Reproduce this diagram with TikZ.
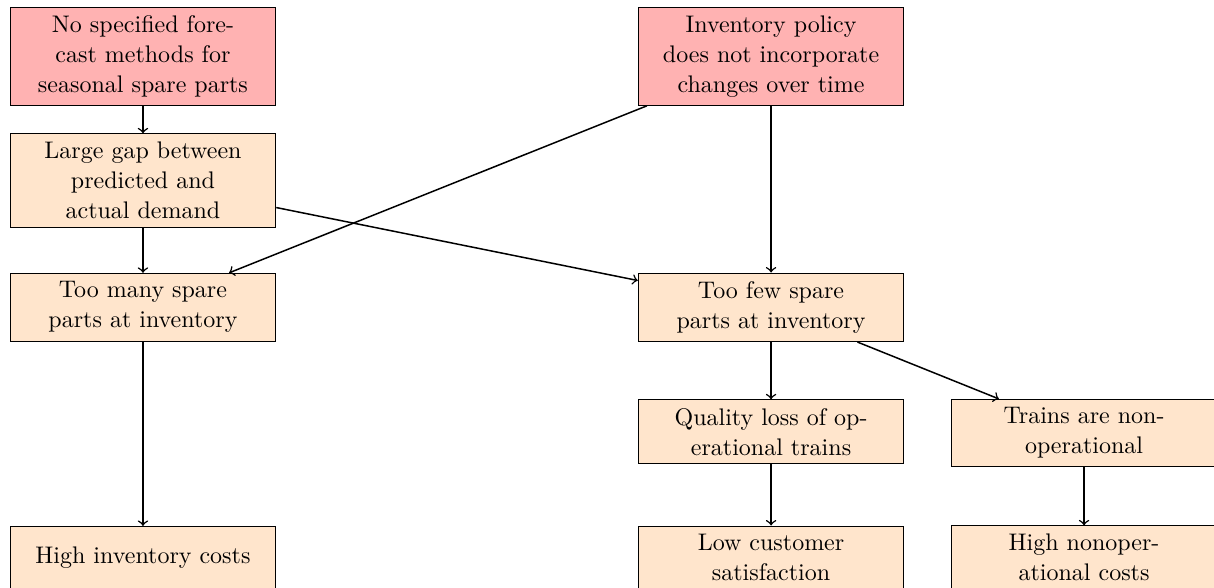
\documentclass[tikz,border=0pt]{standalone}
\usepackage{amsmath}
\usepackage{amssymb}
\usepackage{xcolor}
\usepackage{tikz}

\begin{document}
\begin{tikzpicture}
\tikzstyle{cause} = [draw,fill=red!30,font=\fontsize{9.6}{12}\selectfont,text width=3.5cm,align=center,minimum height=2.5em];
\tikzstyle{effect} = [draw,fill=orange!20,font=\fontsize{9.6}{12}\selectfont,text width=3.5cm,align=center,minimum height=2.5em];
\tikzstyle{arr} = [semithick,->];
\useasboundingbox (0,0) rectangle (17.067,-8.266);
\node [cause] (v1) at (2.01,-0.79) {No specified forecast methods for seasonal spare parts};
\node [cause] (v2) at (10.84,-0.79) {Inventory policy does not incorporate changes over time};
\node [effect] (v3) at (2.01,-2.54) {Large gap between predicted and actual demand};
\node [effect] (v4) at (2.01,-4.32) {Too many spare parts at inventory};
\node [effect] (v5) at (10.84,-4.32) {Too few spare parts at inventory};
\node [effect] (v6) at (10.84,-6.07) {Quality loss of operational trains};
\node [effect] (v7) at (15.24,-6.09) {Trains are nonoperational};
\node [effect] (v8) at (2.01,-7.84) {High inventory costs};
\node [effect] (v9) at (10.84,-7.84) {Low customer satisfaction};
\node [effect] (v10) at (15.24,-7.84) {High nonoperational costs};
\draw [arr] (v1) edge (v3);
\draw [arr] (v3) edge (v4);
\draw [arr] (v3) edge (v5);
\draw [arr] (v2) edge (v4);
\draw [arr] (v2) edge (v5);
\draw [arr] (v4) edge (v8);
\draw [arr] (v5) edge (v6);
\draw [arr] (v5) edge (v7);
\draw [arr] (v6) edge (v9);
\draw [arr] (v7) edge (v10);
\end{tikzpicture}
\end{document}
